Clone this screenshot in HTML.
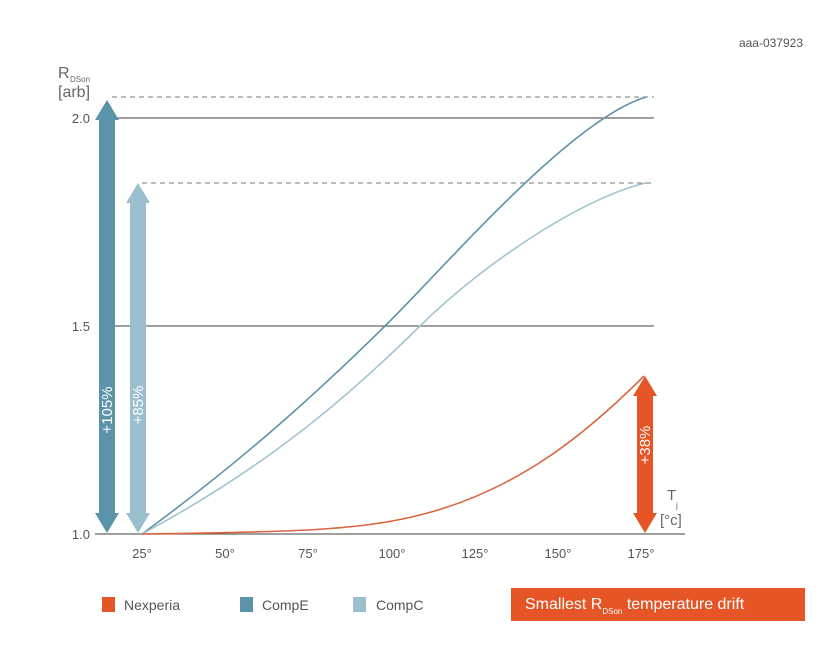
<!DOCTYPE html><html><head><style>body{margin:0;background:#fff}svg text{font-family:"Liberation Sans",sans-serif}</style></head><body>
<svg width="830" height="658" viewBox="0 0 830 658" xmlns="http://www.w3.org/2000/svg">
<text x="803" y="47" font-size="12" fill="#555" text-anchor="end">aaa-037923</text>
<text x="58" y="78" font-size="16" fill="#666">R</text><text x="70" y="82" font-size="8" fill="#666">DSon</text>
<text x="58" y="97" font-size="16" fill="#666">[arb]</text>
<line x1="112" y1="97" x2="654" y2="97" stroke="#777" stroke-dasharray="5,4"/>
<line x1="142" y1="183" x2="654" y2="183" stroke="#777" stroke-dasharray="5,4"/>
<line x1="112" y1="118" x2="654" y2="118" stroke="#666" stroke-width="1.2"/>
<line x1="112" y1="326" x2="654" y2="326" stroke="#666" stroke-width="1.2"/>
<line x1="95" y1="534" x2="685" y2="534" stroke="#666" stroke-width="1.2"/>
<g font-size="13" fill="#555" text-anchor="end"><text x="90" y="123">2.0</text><text x="90" y="331">1.5</text><text x="90" y="539">1.0</text></g>
<g font-size="13" fill="#555" text-anchor="middle"><text x="142" y="558">25°</text><text x="225" y="558">50°</text><text x="308" y="558">75°</text><text x="392" y="558">100°</text><text x="475" y="558">125°</text><text x="558" y="558">150°</text><text x="641" y="558">175°</text></g>
<text x="667" y="500" font-size="15" fill="#666">T</text><text x="676" y="508" font-size="8" fill="#666">j</text>
<text x="660" y="525" font-size="15" fill="#666">[°c]</text>
<path d="M142,534 C250,455 325,385 385,326 S570,120 646,97" fill="none" stroke="#5b93a8" stroke-width="1.6"/>
<path d="M142,534 C270,465 350,395 420,326 S590,195 646,183" fill="none" stroke="#a2c3cf" stroke-width="1.6"/>
<path d="M142,534 C300,532 360,530 420,515 C520,490 590,430 644,376" fill="none" stroke="#d9643f" stroke-width="1.6"/>
<g fill="#5b93aa"><rect x="99" y="118" width="16" height="398"/><polygon points="107,100 95,120 119,120"/><polygon points="107,533 95,513 119,513"/></g>
<g fill="#9bbfcf"><rect x="130" y="201" width="16" height="315"/><polygon points="138,183 126,203 150,203"/><polygon points="138,533 126,513 150,513"/></g>
<g fill="#e55526"><rect x="637" y="394" width="16" height="122"/><polygon points="645,376 633,396 657,396"/><polygon points="645,533 633,513 657,513"/></g>
<text transform="translate(112,410) rotate(-90)" font-size="15" fill="#fff" text-anchor="middle">+105%</text>
<text transform="translate(143,405) rotate(-90)" font-size="15" fill="#fff" text-anchor="middle">+85%</text>
<text transform="translate(650,445) rotate(-90)" font-size="15" fill="#fff" text-anchor="middle">+38%</text>
<rect x="102" y="597" width="13" height="15" fill="#e55526"/><text x="124" y="610" font-size="14" fill="#555">Nexperia</text>
<rect x="240" y="597" width="13" height="15" fill="#5b93aa"/><text x="262" y="610" font-size="14" fill="#555">CompE</text>
<rect x="353" y="597" width="13" height="15" fill="#9bbfcf"/><text x="376" y="610" font-size="14" fill="#555">CompC</text>
<rect x="511" y="588" width="294" height="33" fill="#e55526"/>
<text x="525" y="609" font-size="16" fill="#fff">Smallest R<tspan font-size="8" dy="5">DSon</tspan><tspan dy="-5"> temperature drift</tspan></text>
</svg></body></html>
